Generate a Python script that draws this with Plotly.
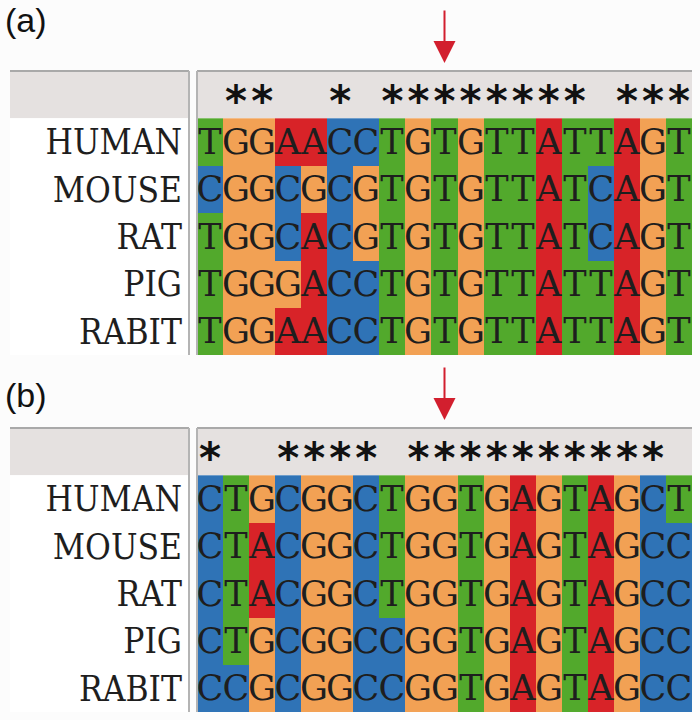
import plotly.graph_objects as go

species = ["HUMAN", "MOUSE", "RAT", "PIG", "RABIT"]

seqs_a = [
    "TGGAACCTGTGTTATTAGT",
    "CGGCGCGTGTGTTATCAGT",
    "TGGCACGTGTGTTATCAGT",
    "TGGGACCTGTGTTATTAGT",
    "TGGAACCTGTGTTATTAGT",
]
seqs_b = [
    "CTGCGGCTGGTGAGTAGCT",
    "CTACGGCTGGTGAGTAGCC",
    "CTACGGCTGGTGAGTAGCC",
    "CTGCGGCCGGTGAGTAGCC",
    "CCGCGGCCGGTGAGTAGCC",
]
arrow_col_a = 9
arrow_col_b = 9

bases = ["A", "C", "G", "T"]
base_colors = ["#d82328", "#2f73b6", "#f2a154", "#52a92c"]

W, H = 700, 720
STAR_ROW = -0.78  # conservation row (slightly lowered so the glyph sits centred)


def px_x(p):
    return p / W


def px_y(p):
    return 1 - p / H


colorscale = []
for i, c in enumerate(base_colors):
    colorscale += [[i / 4, c], [(i + 1) / 4, c]]


def panel_traces(seqs, xa, ya):
    z = [[bases.index(ch) for ch in s] for s in seqs]
    text = [list(s) for s in seqs]
    ncol = len(seqs[0])
    hm = go.Heatmap(
        z=z, x=list(range(ncol)), y=list(range(len(seqs))),
        text=text, texttemplate="%{text}",
        textfont=dict(family="DejaVu Serif", size=35, color="#1e1e1e"),
        colorscale=colorscale, zmin=-0.5, zmax=3.5, showscale=False,
        xaxis=xa, yaxis=ya, hoverinfo="skip",
    )
    cons = [i for i in range(ncol) if len(set(s[i] for s in seqs)) == 1]
    stars = go.Scatter(
        x=cons, y=[STAR_ROW] * len(cons), mode="text", text=["<b>*</b>"] * len(cons),
        textfont=dict(family="DejaVu Sans", size=42, color="#111"),
        xaxis=xa, yaxis=ya, hoverinfo="skip", showlegend=False,
    )
    return [hm, stars]


fig = go.Figure()
for t in panel_traces(seqs_a, "x", "y") + panel_traces(seqs_b, "x2", "y2"):
    fig.add_trace(t)

# panel pixel boxes: (top, bottom) of the header+rows block
panels = [(71, 355, "x", "y", "(a)", 20, arrow_col_a), (428, 712, "x2", "y2", "(b)", 395, arrow_col_b)]
lab_left, lab_right, aln_left, aln_right = 10, 189, 197, 692

ax_common = dict(showgrid=False, zeroline=False, showticklabels=False, ticks="",
                 range=[-0.5, 18.5], fixedrange=True)
shapes, annotations = [], []
for i, (top, bot, xa, ya, lab, lab_y, acol) in enumerate(panels):
    sfx = "" if i == 0 else "2"
    fig.layout["xaxis" + sfx] = dict(ax_common, domain=[px_x(aln_left), px_x(aln_right)], anchor="y" + sfx)
    fig.layout["yaxis" + sfx] = dict(
        domain=[px_y(bot), px_y(top)], range=[4.5, -1.5], anchor="x" + sfx,
        showgrid=False, zeroline=False, ticks="", tickvals=list(range(5)), ticktext=species,
        tickfont=dict(family="DejaVu Serif Condensed, DejaVu Serif", size=35, color="#1e1e1e"),
        ticklabelstandoff=14, fixedrange=True,
    )
    row_h = (bot - top) / 6
    hdr_bot = top + row_h
    # grey header band (labels side + alignment side)
    shapes.append(dict(type="rect", xref="paper", yref="paper", x0=px_x(lab_left), x1=px_x(lab_right),
                       y0=px_y(hdr_bot), y1=px_y(top), fillcolor="#e5e1e0", line_width=0, layer="below"))
    shapes.append(dict(type="rect", xref="paper", yref="paper", x0=px_x(aln_left), x1=px_x(aln_right),
                       y0=px_y(hdr_bot), y1=px_y(top), fillcolor="#e5e1e0", line_width=0, layer="below"))
    # white label rows
    shapes.append(dict(type="rect", xref="paper", yref="paper", x0=px_x(lab_left), x1=px_x(lab_right),
                       y0=px_y(bot), y1=px_y(hdr_bot), fillcolor="#ffffff", line_width=0, layer="below"))
    # borders
    for x0, x1 in [(lab_left, lab_right), (aln_left, aln_right)]:
        shapes.append(dict(type="line", xref="paper", yref="paper", x0=px_x(x0), x1=px_x(x1),
                           y0=px_y(top), y1=px_y(top), line=dict(color="#a9a9a9", width=2)))
    shapes.append(dict(type="line", xref="paper", yref="paper", x0=px_x(lab_right), x1=px_x(lab_right),
                       y0=px_y(bot), y1=px_y(top), line=dict(color="#b4b4b4", width=2)))
    shapes.append(dict(type="line", xref="paper", yref="paper", x0=px_x(aln_left), x1=px_x(aln_left),
                       y0=px_y(bot), y1=px_y(top), line=dict(color="#b4b4b4", width=2)))
    # red arrow over highlighted column
    annotations.append(dict(xref=xa, yref="paper", x=acol, y=px_y(top - 8), ax=0, ay=-54, text="",
                            showarrow=True, arrowhead=2, arrowsize=2.2, arrowwidth=2,
                            arrowcolor="#d21f2e", standoff=0))
    annotations.append(dict(xref="paper", yref="paper", x=px_x(3), y=px_y(lab_y), text=lab,
                            xanchor="left", yanchor="middle", showarrow=False,
                            font=dict(family="Liberation Sans", size=34, color="#111")))

fig.update_layout(
    width=W, height=H, margin=dict(l=0, r=0, t=0, b=0),
    paper_bgcolor="#fcfcfc", plot_bgcolor="#fcfcfc",
    shapes=shapes, annotations=annotations, showlegend=False,
)

fig.write_html("out.html", config={"displayModeBar": False},
               post_script="document.body.style.margin='0px';")
